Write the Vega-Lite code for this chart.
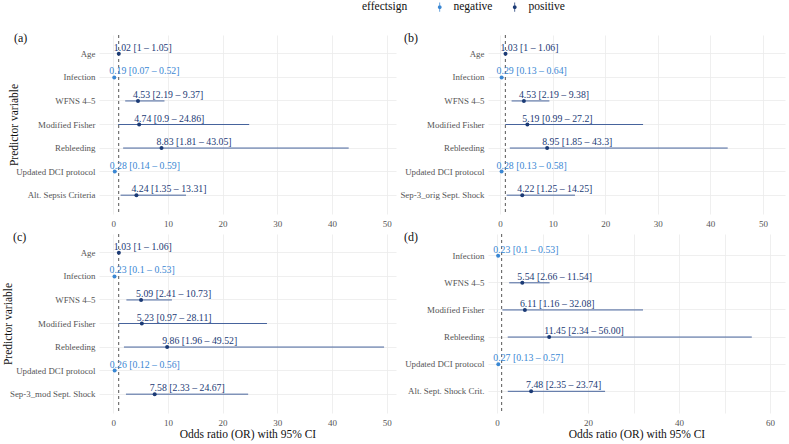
{
  "$schema": "https://vega.github.io/schema/vega-lite/v6.json",
  "background": "white",
  "padding": {"left": 2, "top": 1, "right": 2, "bottom": 2},
  "config": {
    "font": "Times New Roman, Liberation Serif, serif",
    "view": {"stroke": null},
    "text": {"font": "Times New Roman, Liberation Serif, serif"},
    "axis": {
      "domain": false, "ticks": false, "gridColor": "#ebebeb", "gridWidth": 0.8,
      "labelColor": "#555555", "labelFont": "Times New Roman, Liberation Serif, serif", "titleFont": "Times New Roman, Liberation Serif, serif",
      "titleFontWeight": "normal", "titleColor": "#111111", "titleFontSize": 11.5
    },
    "legend": {"labelFont": "Times New Roman, Liberation Serif, serif", "titleFont": "Times New Roman, Liberation Serif, serif"},
    "axisX": {"labelFontSize": 9, "labelPadding": 5, "titlePadding": 1},
    "axisY": {"labelFontSize": 8.9, "labelPadding": 4, "titlePadding": -4},
    "title": {"font": "Times New Roman, Liberation Serif, serif", "fontWeight": "normal", "fontSize": 12, "color": "#111111", "anchor": "start", "frame": "group", "offset": 0}
  },
  "datasets": {
    "a": [
      {"predictor": "Age", "or": 1.02, "lo": 1, "hi": 1.05, "effectsign": "positive", "label": "1.02 [1 – 1.05]"},
      {"predictor": "Infection", "or": 0.19, "lo": 0.07, "hi": 0.52, "effectsign": "negative", "label": "0.19 [0.07 – 0.52]"},
      {"predictor": "WFNS 4–5", "or": 4.53, "lo": 2.19, "hi": 9.37, "effectsign": "positive", "label": "4.53 [2.19 – 9.37]"},
      {"predictor": "Modified Fisher", "or": 4.74, "lo": 0.9, "hi": 24.86, "effectsign": "positive", "label": "4.74 [0.9 – 24.86]"},
      {"predictor": "Rebleeding", "or": 8.83, "lo": 1.81, "hi": 43.05, "effectsign": "positive", "label": "8.83 [1.81 – 43.05]"},
      {"predictor": "Updated DCI protocol", "or": 0.28, "lo": 0.14, "hi": 0.59, "effectsign": "negative", "label": "0.28 [0.14 – 0.59]"},
      {"predictor": "Alt. Sepsis Criteria", "or": 4.24, "lo": 1.35, "hi": 13.31, "effectsign": "positive", "label": "4.24 [1.35 – 13.31]"}
    ],
    "b": [
      {"predictor": "Age", "or": 1.03, "lo": 1, "hi": 1.06, "effectsign": "positive", "label": "1.03 [1 – 1.06]"},
      {"predictor": "Infection", "or": 0.29, "lo": 0.13, "hi": 0.64, "effectsign": "negative", "label": "0.29 [0.13 – 0.64]"},
      {"predictor": "WFNS 4–5", "or": 4.53, "lo": 2.19, "hi": 9.38, "effectsign": "positive", "label": "4.53 [2.19 – 9.38]"},
      {"predictor": "Modified Fisher", "or": 5.19, "lo": 0.99, "hi": 27.2, "effectsign": "positive", "label": "5.19 [0.99 – 27.2]"},
      {"predictor": "Rebleeding", "or": 8.95, "lo": 1.85, "hi": 43.3, "effectsign": "positive", "label": "8.95 [1.85 – 43.3]"},
      {"predictor": "Updated DCI protocol", "or": 0.28, "lo": 0.13, "hi": 0.58, "effectsign": "negative", "label": "0.28 [0.13 – 0.58]"},
      {"predictor": "Sep-3_orig Sept. Shock", "or": 4.22, "lo": 1.25, "hi": 14.25, "effectsign": "positive", "label": "4.22 [1.25 – 14.25]"}
    ],
    "c": [
      {"predictor": "Age", "or": 1.03, "lo": 1, "hi": 1.06, "effectsign": "positive", "label": "1.03 [1 – 1.06]"},
      {"predictor": "Infection", "or": 0.23, "lo": 0.1, "hi": 0.53, "effectsign": "negative", "label": "0.23 [0.1 – 0.53]"},
      {"predictor": "WFNS 4–5", "or": 5.09, "lo": 2.41, "hi": 10.73, "effectsign": "positive", "label": "5.09 [2.41 – 10.73]"},
      {"predictor": "Modified Fisher", "or": 5.23, "lo": 0.97, "hi": 28.11, "effectsign": "positive", "label": "5.23 [0.97 – 28.11]"},
      {"predictor": "Rebleeding", "or": 9.86, "lo": 1.96, "hi": 49.52, "effectsign": "positive", "label": "9.86 [1.96 – 49.52]"},
      {"predictor": "Updated DCI protocol", "or": 0.26, "lo": 0.12, "hi": 0.56, "effectsign": "negative", "label": "0.26 [0.12 – 0.56]"},
      {"predictor": "Sep-3_mod Sept. Shock", "or": 7.58, "lo": 2.33, "hi": 24.67, "effectsign": "positive", "label": "7.58 [2.33 – 24.67]"}
    ],
    "d": [
      {"predictor": "Infection", "or": 0.23, "lo": 0.1, "hi": 0.53, "effectsign": "negative", "label": "0.23 [0.1 – 0.53]"},
      {"predictor": "WFNS 4–5", "or": 5.54, "lo": 2.66, "hi": 11.54, "effectsign": "positive", "label": "5.54 [2.66 – 11.54]"},
      {"predictor": "Modified Fisher", "or": 6.11, "lo": 1.16, "hi": 32.08, "effectsign": "positive", "label": "6.11 [1.16 – 32.08]"},
      {"predictor": "Rebleeding", "or": 11.45, "lo": 2.34, "hi": 56.0, "effectsign": "positive", "label": "11.45 [2.34 – 56.00]"},
      {"predictor": "Updated DCI protocol", "or": 0.27, "lo": 0.13, "hi": 0.57, "effectsign": "negative", "label": "0.27 [0.13 – 0.57]"},
      {"predictor": "Alt. Sept. Shock Crit.", "or": 7.48, "lo": 2.35, "hi": 23.74, "effectsign": "positive", "label": "7.48 [2.35 – 23.74]"}
    ],
    "ref": [{"ref": 1}]
  },
  "columns": 2,
  "bounds": "flush",
  "spacing": {"row": 20, "column": 92},
  "concat": [
    {
      "width": 297, "height": 179,
      "title": {"text": "(a)", "dx": -85, "dy": 14},
      "layer": [
        {"data": {"name": "a"}, "mark": {"type": "rule", "color": "#46639c", "strokeWidth": 1},
         "encoding": {
           "y": {"field": "predictor", "type": "nominal", "sort": null, "scale": {"padding": 0.6}, "axis": {"title": "Predictor variable", "grid": true}},
           "x": {"field": "lo", "type": "quantitative", "scale": {"domain": [-2.6, 51.7], "nice": false, "zero": false}, "axis": {"title": null, "values": [0,5,10,15,20,25,30,35,40,45,50], "labelExpr": "datum.value % 10 === 0 ? datum.label : ''"}},
           "x2": {"field": "hi"}
         }},
        {"data": {"name": "ref"}, "mark": {"type": "rule", "color": "#444444", "strokeDash": [3, 3], "strokeWidth": 0.9},
         "encoding": {"x": {"field": "ref", "type": "quantitative"}}},
        {"data": {"name": "a"}, "mark": {"type": "circle", "size": 16, "opacity": 1},
         "encoding": {
           "y": {"field": "predictor", "type": "nominal", "sort": null},
           "x": {"field": "or", "type": "quantitative"},
           "color": {"field": "effectsign", "type": "nominal", "scale": {"domain": ["negative", "positive"], "range": ["#3a87d3", "#1b3a75"]},
             "legend": {"orient": "none", "legendX": 263, "legendY": -34, "direction": "horizontal", "titleOrient": "left", "title": "effectsign", "titleFont": "Times New Roman, Liberation Serif, serif", "labelFont": "Times New Roman, Liberation Serif, serif", "titleFontSize": 11.5, "titleFontWeight": "normal", "titleColor": "#111111", "labelFontSize": 11.5, "labelColor": "#111111", "titlePadding": 26, "columnPadding": 16, "labelOffset": 8, "symbolSize": 90, "symbolType": "M-0.08,-1L0.08,-1L0.08,1L-0.08,1Z M0.4,0A0.4,0.4 0 1,1 -0.4,0A0.4,0.4 0 1,1 0.4,0Z", "symbolStrokeWidth": 0}}
         }},
        {"data": {"name": "a"}, "mark": {"type": "text", "align": "left", "baseline": "alphabetic", "dx": -5, "dy": -3, "fontSize": 9.8},
         "encoding": {
           "y": {"field": "predictor", "type": "nominal", "sort": null},
           "x": {"field": "or", "type": "quantitative"},
           "text": {"field": "label"},
           "color": {"field": "effectsign", "type": "nominal"}
         }}
      ]
    },
    {
      "width": 297, "height": 179,
      "title": {"text": "(b)", "dx": -84, "dy": 14},
      "layer": [
        {"data": {"name": "b"}, "mark": {"type": "rule", "color": "#46639c", "strokeWidth": 1},
         "encoding": {
           "y": {"field": "predictor", "type": "nominal", "sort": null, "scale": {"padding": 0.6}, "axis": {"title": null, "grid": true}},
           "x": {"field": "lo", "type": "quantitative", "scale": {"domain": [-2.3, 54.2], "nice": false, "zero": false}, "axis": {"title": null, "values": [0,5,10,15,20,25,30,35,40,45,50], "labelExpr": "datum.value % 10 === 0 ? datum.label : ''"}},
           "x2": {"field": "hi"}
         }},
        {"data": {"name": "ref"}, "mark": {"type": "rule", "color": "#444444", "strokeDash": [3, 3], "strokeWidth": 0.9},
         "encoding": {"x": {"field": "ref", "type": "quantitative"}}},
        {"data": {"name": "b"}, "mark": {"type": "circle", "size": 16, "opacity": 1},
         "encoding": {
           "y": {"field": "predictor", "type": "nominal", "sort": null},
           "x": {"field": "or", "type": "quantitative"},
           "color": {"field": "effectsign", "type": "nominal"}
         }},
        {"data": {"name": "b"}, "mark": {"type": "text", "align": "left", "baseline": "alphabetic", "dx": -5, "dy": -3, "fontSize": 9.8},
         "encoding": {
           "y": {"field": "predictor", "type": "nominal", "sort": null},
           "x": {"field": "or", "type": "quantitative"},
           "text": {"field": "label"},
           "color": {"field": "effectsign", "type": "nominal"}
         }}
      ]
    },
    {
      "width": 297, "height": 179,
      "title": {"text": "(c)", "dx": -86, "dy": 14},
      "layer": [
        {"data": {"name": "c"}, "mark": {"type": "rule", "color": "#46639c", "strokeWidth": 1},
         "encoding": {
           "y": {"field": "predictor", "type": "nominal", "sort": null, "scale": {"padding": 0.6}, "axis": {"title": "Predictor variable", "grid": true}},
           "x": {"field": "lo", "type": "quantitative", "scale": {"domain": [-2.6, 51.7], "nice": false, "zero": false}, "axis": {"title": "Odds ratio (OR) with 95% CI", "values": [0,5,10,15,20,25,30,35,40,45,50], "labelExpr": "datum.value % 10 === 0 ? datum.label : ''"}},
           "x2": {"field": "hi"}
         }},
        {"data": {"name": "ref"}, "mark": {"type": "rule", "color": "#444444", "strokeDash": [3, 3], "strokeWidth": 0.9},
         "encoding": {"x": {"field": "ref", "type": "quantitative"}}},
        {"data": {"name": "c"}, "mark": {"type": "circle", "size": 16, "opacity": 1},
         "encoding": {
           "y": {"field": "predictor", "type": "nominal", "sort": null},
           "x": {"field": "or", "type": "quantitative"},
           "color": {"field": "effectsign", "type": "nominal"}
         }},
        {"data": {"name": "c"}, "mark": {"type": "text", "align": "left", "baseline": "alphabetic", "dx": -5, "dy": -3, "fontSize": 9.8},
         "encoding": {
           "y": {"field": "predictor", "type": "nominal", "sort": null},
           "x": {"field": "or", "type": "quantitative"},
           "text": {"field": "label"},
           "color": {"field": "effectsign", "type": "nominal"}
         }}
      ]
    },
    {
      "width": 297, "height": 179,
      "title": {"text": "(d)", "dx": -84, "dy": 14},
      "layer": [
        {"data": {"name": "d"}, "mark": {"type": "rule", "color": "#46639c", "strokeWidth": 1},
         "encoding": {
           "y": {"field": "predictor", "type": "nominal", "sort": null, "scale": {"padding": 0.6}, "axis": {"title": null, "grid": true}},
           "x": {"field": "lo", "type": "quantitative", "scale": {"domain": [-2.0, 63.3], "nice": false, "zero": false}, "axis": {"title": "Odds ratio (OR) with 95% CI", "values": [0,10,20,30,40,50,60], "labelExpr": "datum.value % 20 === 0 ? datum.label : ''"}},
           "x2": {"field": "hi"}
         }},
        {"data": {"name": "ref"}, "mark": {"type": "rule", "color": "#444444", "strokeDash": [3, 3], "strokeWidth": 0.9},
         "encoding": {"x": {"field": "ref", "type": "quantitative"}}},
        {"data": {"name": "d"}, "mark": {"type": "circle", "size": 16, "opacity": 1},
         "encoding": {
           "y": {"field": "predictor", "type": "nominal", "sort": null},
           "x": {"field": "or", "type": "quantitative"},
           "color": {"field": "effectsign", "type": "nominal"}
         }},
        {"data": {"name": "d"}, "mark": {"type": "text", "align": "left", "baseline": "alphabetic", "dx": -5, "dy": -3, "fontSize": 9.8},
         "encoding": {
           "y": {"field": "predictor", "type": "nominal", "sort": null},
           "x": {"field": "or", "type": "quantitative"},
           "text": {"field": "label"},
           "color": {"field": "effectsign", "type": "nominal"}
         }}
      ]
    }
  ]
}
